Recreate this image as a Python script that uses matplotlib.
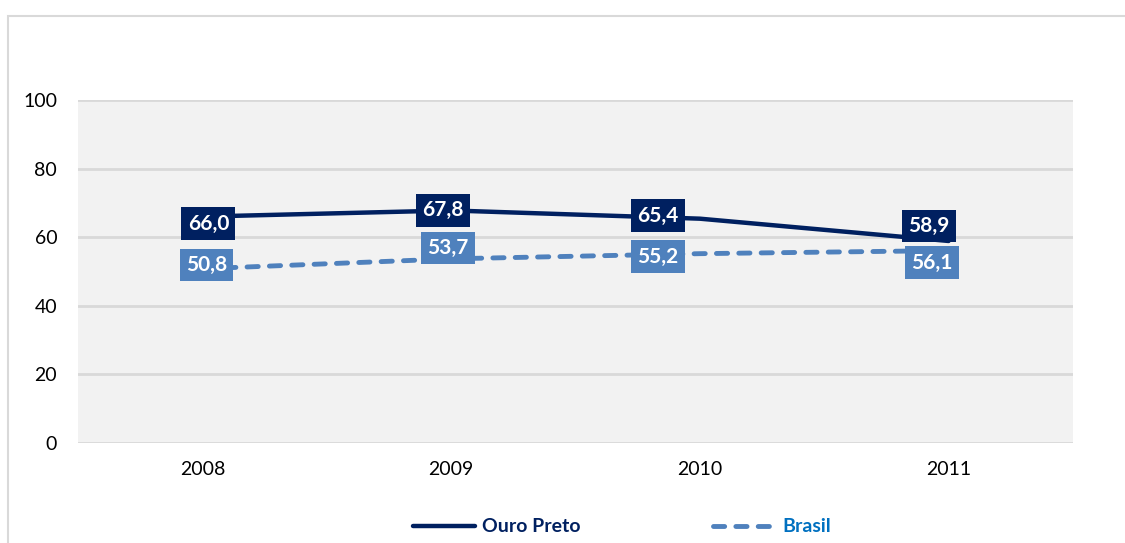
import matplotlib
matplotlib.use("Agg")
import matplotlib.pyplot as plt
from matplotlib.patches import Rectangle
from matplotlib.lines import Line2D

years = ["2008", "2009", "2010", "2011"]
ouro_preto = [66.0, 67.8, 65.4, 58.9]
brasil = [50.8, 53.7, 55.2, 56.1]
ouro_labels = ["66,0", "67,8", "65,4", "58,9"]
brasil_labels = ["50,8", "53,7", "55,2", "56,1"]
y_ticks = [0, 20, 40, 60, 80, 100]

# label offsets in pixels (dx, dy) relative to points
ouro_off = [(6, -7), (-8, 0), (-42, 3), (-20, 15)]
brasil_off = [(4, 4), (-3, 11), (-42, -3), (-17, -12)]

DARK = "#002060"
LIGHT = "#4F81BD"
FONT = ["Lato", "DejaVu Sans"]
plt.rcParams["font.family"] = FONT

W, H = 1125, 543
fig = plt.figure(figsize=(W / 100, H / 100), dpi=100)
fig.patch.set_facecolor("white")

# outer border
fig.patches.append(Rectangle((8 / W, -0.1), 1.2, (H - 16) / H + 0.1, transform=fig.transFigure,
                             fill=False, edgecolor="#D9D9D9", linewidth=1.5, zorder=0))

ax = fig.add_axes([78 / W, 1 - 443 / H, (1073 - 78) / W, (443 - 100) / H])
ax.set_facecolor("#F2F2F2")
x = list(range(len(years)))
ax.set_xlim(-0.5, len(years) - 0.5)
ax.set_ylim(0, 100)
ax.set_yticks(y_ticks)
ax.set_yticklabels([str(v) for v in y_ticks])
ax.set_xticks(x)
ax.set_xticklabels(years)
ax.tick_params(axis="both", length=0, labelsize=14, colors="black")
ax.tick_params(axis="y", pad=15)
ax.tick_params(axis="x", pad=13)
for s in ax.spines.values():
    s.set_visible(False)
ax.grid(axis="y", color="#D9D9D9", linewidth=2)
ax.set_axisbelow(True)

ax.plot(x, ouro_preto, color=DARK, linewidth=3.2, solid_capstyle="round", zorder=3)
ax.plot(x, brasil, color=LIGHT, linewidth=3.5, dashes=(2.3, 2.3), dash_capstyle="round", zorder=3)

for xi, v, lab, (dx, dy) in zip(x, ouro_preto, ouro_labels, ouro_off):
    ax.annotate(lab, (xi, v), xytext=(dx, dy), textcoords="offset pixels", ha="center", va="center",
                color="white", fontsize=15, fontweight="bold", zorder=5,
                bbox=dict(boxstyle="square,pad=0.3", facecolor=DARK, edgecolor="none"))
for xi, v, lab, (dx, dy) in zip(x, brasil, brasil_labels, brasil_off):
    ax.annotate(lab, (xi, v), xytext=(dx, dy), textcoords="offset pixels", ha="center", va="center",
                color="white", fontsize=15, fontweight="bold", zorder=5,
                bbox=dict(boxstyle="square,pad=0.3", facecolor=LIGHT, edgecolor="none"))

handles = [Line2D([], [], color=DARK, linewidth=3.2, solid_capstyle="round"),
           Line2D([], [], color=LIGHT, linewidth=3.5, dashes=(2.3, 2.3), dash_capstyle="round")]
leg = fig.legend(handles, ["Ouro Preto", "Brasil"], loc="center", bbox_to_anchor=(622 / W, 1 - 527 / H),
                 ncol=2, frameon=False, handlelength=3.2, handletextpad=0.35, columnspacing=6.8,
                 prop={"family": FONT, "weight": "bold", "size": 14})
leg.get_texts()[0].set_color(DARK)
leg.get_texts()[1].set_color("#0070C0")

fig.savefig("out.png", dpi=100, facecolor="white")
